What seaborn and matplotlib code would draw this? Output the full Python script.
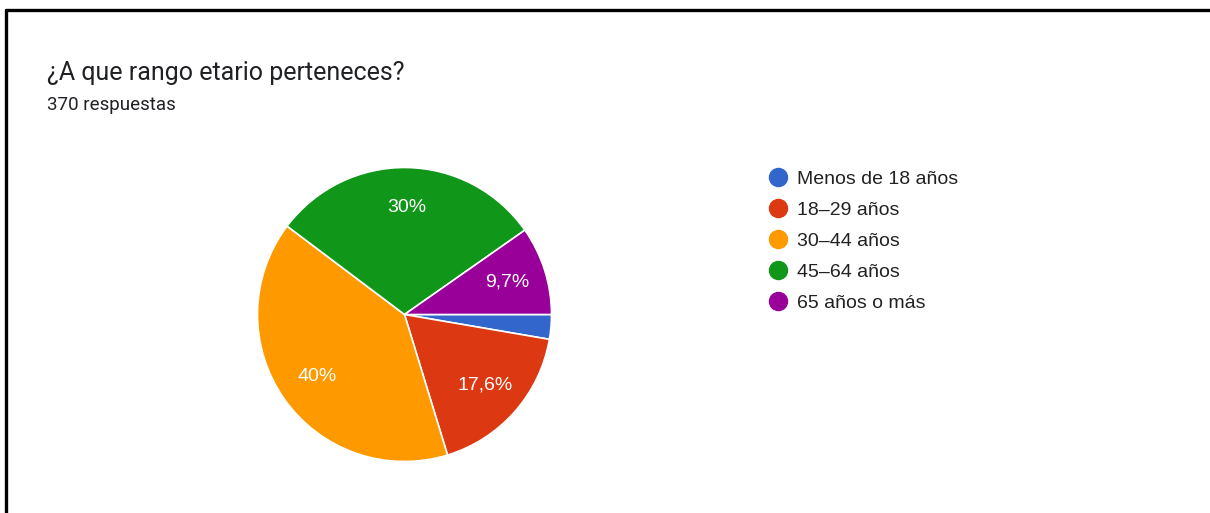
import matplotlib
matplotlib.use("Agg")
import matplotlib.pyplot as plt
from matplotlib.lines import Line2D
import seaborn as sns

# Survey responses per age bracket
categories = ["Menos de 18 años", "18–29 años", "30–44 años", "45–64 años", "65 años o más"]
counts = [10, 65, 148, 111, 36]
palette_hex = ["#3366cc", "#dc3912", "#ff9900", "#109618", "#990099"]

title = "¿A que rango etario perteneces?"
subtitle = "370 respuestas"

sns.set_theme(style="white")
plt.rcParams["font.family"] = ["Liberation Sans", "DejaVu Sans"]

W, H = 1210, 513
fig = plt.figure(figsize=(W / 100, H / 100), dpi=100)
fig.patch.set_facecolor("white")

colors = sns.color_palette(palette_hex)

# Pie axes: centre (404, 314) px, radius 147 px
cx, cy, r = 404.5, 314.5, 147
ax = fig.add_axes([(cx - r) / W, (H - cy - r) / H, 2 * r / W, 2 * r / H])


def fmt_pct(p):
    if p < 5:
        return ""
    val = round(p, 1)
    if abs(val - round(val)) < 1e-9:
        return f"{int(round(val))}%"
    return f"{val:.1f}%".replace(".", ",")


wedges, _, autotexts = ax.pie(
    counts,
    colors=colors,
    startangle=0,
    counterclock=False,
    radius=1,
    autopct=fmt_pct,
    pctdistance=0.73,
    wedgeprops=dict(edgecolor="white", linewidth=1.2),
    textprops=dict(color="white", fontsize=14, family=["Liberation Sans", "DejaVu Sans"]),
)
ax.set_xlim(-1, 1)
ax.set_ylim(-1, 1)
ax.set_aspect("equal")
ax.axis("off")

# Legend with round markers
handles = [
    Line2D([0], [0], marker="o", linestyle="none", markersize=13,
           markerfacecolor=c, markeredgecolor=c)
    for c in colors
]
leg = fig.legend(
    handles, categories,
    loc="upper left",
    bbox_to_anchor=(768 / W, 1 - 170 / H),
    frameon=False,
    fontsize=14,
    handlelength=1.0,
    handletextpad=0.48,
    labelspacing=0.69,
    borderpad=0,
    borderaxespad=0,
)
for t in leg.get_texts():
    t.set_color("#222222")

# Title and response count
fig.text(47 / W, 1 - 80 / H, title, fontsize=18, color="#202124",
         family=["Roboto", "DejaVu Sans"], ha="left", va="baseline")
fig.text(47 / W, 1 - 110 / H, subtitle, fontsize=13.5, color="#202124",
         family=["Roboto", "DejaVu Sans"], ha="left", va="baseline")

# Frame lines on top and left edges
fig.add_artist(Line2D([6 / W, 1], [1 - 10 / H, 1 - 10 / H], color="black",
                      linewidth=2.4, transform=fig.transFigure))
fig.add_artist(Line2D([6 / W, 6 / W], [0, 1 - 10 / H], color="black",
                      linewidth=2.4, transform=fig.transFigure))

fig.savefig("out.png", dpi=100, facecolor="white")
